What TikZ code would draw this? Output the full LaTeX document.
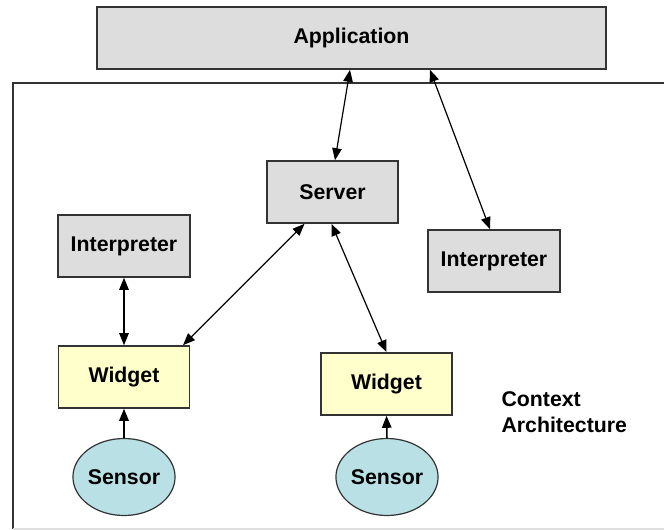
\documentclass[tikz,border=0pt]{standalone}
\usepackage{fontspec}
\setmainfont{Liberation Sans}
\usetikzlibrary{arrows.meta,shapes.geometric}

\definecolor{boxgray}{RGB}{221,221,221}
\definecolor{boxyellow}{RGB}{255,255,204}
\definecolor{sensorcyan}{RGB}{185,224,228}
\definecolor{edgegray}{RGB}{51,51,51}

\tikzset{
  x=1pt, y=1pt,
  label font/.style={font=\bfseries\fontsize{21.3}{26.5}\selectfont},
  graybox/.style={draw=edgegray, line width=1.6pt, fill=boxgray, rectangle,
    inner sep=0pt, label font},
  widgetbox/.style={draw=edgegray, line width=1.6pt, fill=boxyellow, rectangle,
    inner sep=0pt, minimum width=131pt, minimum height=62pt, label font},
  sensornode/.style={draw=edgegray, line width=1.2pt, fill=sensorcyan, ellipse,
    inner sep=0pt, minimum width=85pt, minimum height=77pt, label font},
  link/.style={line width=1.2pt, {Triangle[length=12pt,width=9.5pt]}-{Triangle[length=12pt,width=9.5pt]}},
  feed/.style={line width=1.5pt, -{Triangle[length=12pt,width=9.5pt]}},
}

\begin{document}
\begin{tikzpicture}
\useasboundingbox (0,0) rectangle (664,-530);

% enclosing frame of the context architecture (open on the right)
\draw[edgegray, line width=1.6pt] (664,-83) -- (13,-83) -- (13,-529);
\draw[gray!25, line width=1.2pt] (13,-529) -- (664,-529);

% components
\node[graybox, minimum width=509pt, minimum height=62pt] (app) at (351.5,-38) {Application};
\node[graybox, minimum width=131pt, minimum height=62pt] (srv) at (332.5,-192) {Server};
\node[graybox, minimum width=132pt, minimum height=62pt] (int1) at (124,-246) {Interpreter};
\node[graybox, minimum width=132pt, minimum height=62pt] (int2) at (494,-261) {Interpreter};
\node[widgetbox] (w1) at (124,-377) {Widget};
\node[widgetbox] (w2) at (386.5,-384) {Widget};
\node[sensornode] (s1) at (124,-477) {Sensor};
\node[sensornode] (s2) at (387,-477) {Sensor};

\node[label font, align=left, anchor=west] (title) at (498,-412) {Context\\Architecture};

% connectors
\draw[link] ([xshift=-1.5pt]app.south) -- ([xshift=2.5pt]srv.north);
\draw[link] ([xshift=78.5pt]app.south) -- ([xshift=-4pt]int2.north);
\draw[link] ([xshift=-28pt]srv.south) -- ([xshift=59pt]w1.north);
\draw[link] ([xshift=-1pt]srv.south) -- (w2.north);
\draw[link] (int1.south) -- (w1.north);
\draw[feed] (s1.north) -- (w1.south);
\draw[feed] (s2.north) -- (w2.south);
\end{tikzpicture}
\end{document}
